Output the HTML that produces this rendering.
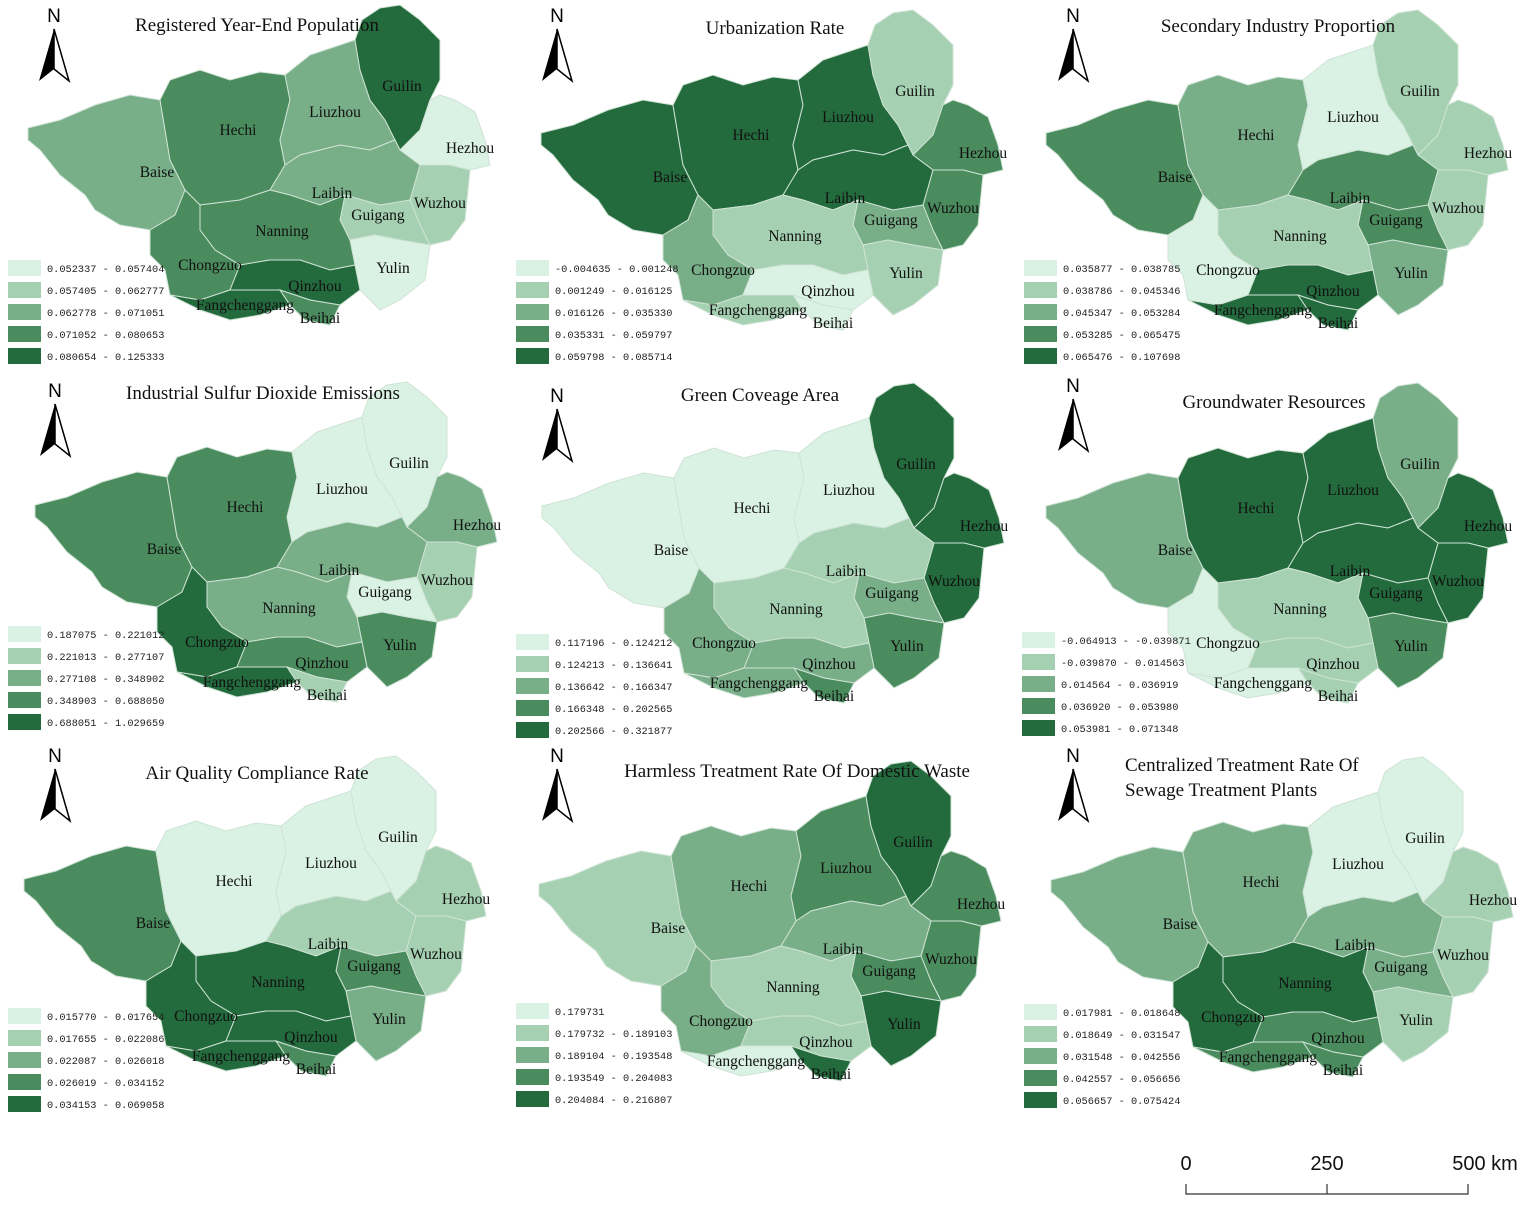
<!DOCTYPE html>
<html><head><meta charset="utf-8"><style>
body{margin:0;background:#fff;}
svg text{font-family:"Liberation Serif","Noto Serif CJK SC",serif;}
svg text.sans{font-family:"Liberation Sans",sans-serif;}
svg text.mono{font-family:"Liberation Mono",monospace;}
</style></head><body>
<svg id="fig" width="1535" height="1204" viewBox="0 0 1535 1204" xmlns="http://www.w3.org/2000/svg"></svg>
<script>
const regionNames=["Baise","Hechi","Liuzhou","Guilin","Hezhou","Wuzhou","Laibin","Guigang","Yulin","Nanning","Chongzuo","Qinzhou","Fangchenggang","Beihai"];
const classPopulation=[3,4,3,5,1,2,3,2,1,4,4,5,5,4];
const classUrban=[5,5,5,2,4,4,5,3,2,2,3,1,2,1];
const classSecondary=[4,3,1,2,2,2,4,4,3,2,1,5,5,5];
const classSO2=[4,4,1,1,3,2,3,1,4,3,5,4,5,2];
const classGreen=[1,1,1,5,5,5,2,3,4,2,3,3,3,4];
const classGround=[3,5,5,3,5,5,5,5,4,2,1,2,1,2];
const classAir=[4,1,1,1,2,2,2,4,3,5,5,5,5,4];
const classWaste=[2,3,4,5,4,4,3,4,5,2,3,2,1,5];
const classSewage=[3,3,1,1,2,2,3,3,2,5,5,4,4,4];
const legendPopulation=["0.052337 - 0.057404","0.057405 - 0.062777","0.062778 - 0.071051","0.071052 - 0.080653","0.080654 - 0.125333"];
const legendUrban=["-0.004635 - 0.001248","0.001249 - 0.016125","0.016126 - 0.035330","0.035331 - 0.059797","0.059798 - 0.085714"];
const legendSecondary=["0.035877 - 0.038785","0.038786 - 0.045346","0.045347 - 0.053284","0.053285 - 0.065475","0.065476 - 0.107698"];
const legendSO2=["0.187075 - 0.221012","0.221013 - 0.277107","0.277108 - 0.348902","0.348903 - 0.688050","0.688051 - 1.029659"];
const legendGreen=["0.117196 - 0.124212","0.124213 - 0.136641","0.136642 - 0.166347","0.166348 - 0.202565","0.202566 - 0.321877"];
const legendGround=["-0.064913 - -0.039871","-0.039870 - 0.014563","0.014564 - 0.036919","0.036920 - 0.053980","0.053981 - 0.071348"];
const legendAir=["0.015770 - 0.017654","0.017655 - 0.022086","0.022087 - 0.026018","0.026019 - 0.034152","0.034153 - 0.069058"];
const legendWaste=["0.179731","0.179732 - 0.189103","0.189104 - 0.193548","0.193549 - 0.204083","0.204084 - 0.216807"];
const legendSewage=["0.017981 - 0.018648","0.018649 - 0.031547","0.031548 - 0.042556","0.042557 - 0.056656","0.056657 - 0.075424"];

const colors=["#daf2e4","#a5d1b2","#78ae88","#4a8c5e","#236b3d"];
const shapes=[
"28,128 60,120 95,105 130,95 160,100 165,130 170,160 185,190 175,215 150,230 120,225 95,210 85,195 60,175 40,150 28,140",
"160,100 170,80 200,70 230,80 260,72 285,75 290,100 280,140 285,165 270,190 240,200 200,205 185,190 170,160 165,130",
"285,75 310,55 340,45 355,40 360,70 370,100 385,120 395,140 370,150 340,145 300,155 285,165 280,140 290,100",
"355,40 362,20 380,8 400,5 420,20 440,40 440,80 430,100 420,130 400,150 385,120 370,100 360,70",
"420,130 430,100 440,95 455,100 475,112 485,140 490,165 470,170 450,165 420,165 400,150",
"420,165 450,165 470,170 468,190 465,220 450,240 430,245 420,225 410,200",
"285,165 300,155 340,145 370,150 395,140 400,150 420,165 410,200 380,205 345,195 320,205 290,195 270,190",
"345,195 380,205 410,200 420,225 430,245 400,240 375,235 350,240 340,220",
"350,240 375,235 400,240 430,245 425,280 400,300 380,310 360,290 355,265",
"200,205 240,200 270,190 290,195 320,205 345,195 340,220 350,240 355,265 330,270 300,260 270,260 240,265 215,250 200,230",
"150,230 175,215 185,190 200,205 200,230 215,250 240,265 230,290 200,300 170,295 165,270 150,255",
"240,265 270,260 300,260 330,270 355,265 360,290 340,305 310,300 280,290 250,290 230,290",
"170,295 200,300 230,290 250,290 280,290 290,305 260,315 230,320 200,310",
"280,290 310,300 340,305 330,325 305,320 290,305"];
const labelPos=[[157,172],[238,130],[335,112],[402,86],[470,148],[440,203],[332,193],[378,215],[393,268],[282,231],[210,265],[315,286],[245,305],[320,318]];

const panels=[
 {t:["Registered Year-End Population"],tx:257,ty:24,dx:0,dy:0,cls:classPopulation,leg:legendPopulation,lx:8,ly:260,nx:54,ny:5},
 {t:["Urbanization Rate"],tx:775,ty:27,dx:513,dy:5,cls:classUrban,leg:legendUrban,lx:516,ly:260,nx:557,ny:5},
 {t:["Secondary Industry Proportion"],tx:1278,ty:25,dx:1018,dy:5,cls:classSecondary,leg:legendSecondary,lx:1024,ly:260,nx:1073,ny:5},
 {t:["Industrial Sulfur Dioxide Emissions"],tx:263,ty:392,dx:7,dy:377,cls:classSO2,leg:legendSO2,lx:8,ly:626,nx:55,ny:380},
 {t:["Green Coveage Area"],tx:760,ty:394,dx:514,dy:378,cls:classGreen,leg:legendGreen,lx:516,ly:634,nx:557,ny:385},
 {t:["Groundwater Resources"],tx:1274,ty:401,dx:1018,dy:378,cls:classGround,leg:legendGround,lx:1022,ly:632,nx:1073,ny:375},
 {t:["Air Quality Compliance Rate"],tx:257,ty:772,dx:-4,dy:751,cls:classAir,leg:legendAir,lx:8,ly:1008,nx:55,ny:745},
 {t:["Harmless Treatment Rate Of Domestic Waste"],tx:797,ty:770,dx:511,dy:756,cls:classWaste,leg:legendWaste,lx:516,ly:1003,nx:557,ny:745},
 {t:["Centralized Treatment Rate Of","Sewage Treatment Plants"],tx:1125,ty:764,anchorStart:true,dx:1023,dy:752,cls:classSewage,leg:legendSewage,lx:1024,ly:1004,nx:1073,ny:745}
];
const NS="http://www.w3.org/2000/svg";
const svg=document.getElementById('fig');
function mk(tag,attrs,parent){const e=document.createElementNS(NS,tag);for(const k in attrs)e.setAttribute(k,attrs[k]);(parent||svg).appendChild(e);return e;}
panels.forEach((p,pi)=>{
 const g=mk('g',{});
 
 
 const mg=mk('g',{transform:`translate(${p.dx},${p.dy})`},g);
 shapes.forEach((s,i)=>{
  const poly=mk('polygon',{points:s,fill:colors[p.cls[i]-1],stroke:'#cfe3d5','stroke-width':1},mg);
  
  
 });
 regionNames.forEach((n,i)=>{
  const t=mk('text',{x:labelPos[i][0],y:labelPos[i][1]+5,'font-size':15.5,'text-anchor':'middle',fill:'#111'},mg);
  t.textContent=n;
  
  
 });
 p.t.forEach((line,li)=>{
  const t=mk('text',{x:p.tx,y:p.ty+li*25+7,'font-size':19,'text-anchor':p.anchorStart?'start':'middle',fill:'#111'},g);
  t.textContent=line;
  
  
 });
 const nt=mk('text',{x:p.nx,y:p.ny+17,'font-size':19,'text-anchor':'middle','class':'sans',fill:'#000'},g);
 nt.textContent='N';
 
 
 const ay=p.ny+24;
 const a1=mk('polygon',{points:`${p.nx},${ay} ${p.nx-15},${ay+52} ${p.nx},${ay+40}`,fill:'#000'},g);
 
 
 const a2=mk('polygon',{points:`${p.nx},${ay} ${p.nx+15},${ay+52} ${p.nx},${ay+40}`,fill:'#fff',stroke:'#000','stroke-width':1.5},g);
 
 
 p.leg.forEach((txt,i)=>{
  const y=p.ly+i*22;
  const r=mk('rect',{x:p.lx,y:y,width:33,height:16,fill:colors[i]},g);
  
  
  const t=mk('text',{x:p.lx+39,y:y+12,'font-size':10.3,fill:'#222','class':'mono'},g);
  t.textContent=txt;
  
  
 });
});
const sb=mk('g',{});


mk('path',{d:'M1186,1184 V1194 H1468 V1184 M1327,1184 V1194',stroke:'#333','stroke-width':1.2,fill:'none'},sb);
[["0",1186],["250",1327],["500 km",1485]].forEach(([s,x])=>{
 const t=mk('text',{x:x,y:1170,'font-size':20,'text-anchor':'middle','class':'sans',fill:'#111'},sb);
 t.textContent=s;
 
 
});
</script>
</body></html>
